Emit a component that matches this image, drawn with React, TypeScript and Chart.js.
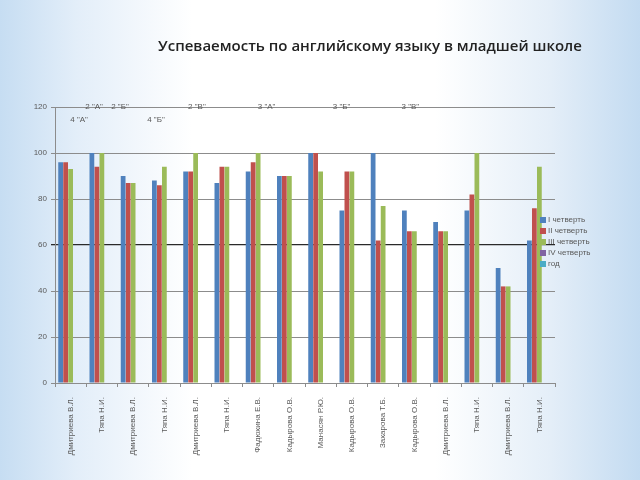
import React, { useEffect, useRef } from "react";
import { Chart, registerables } from "chart.js";

Chart.register(...registerables);

const TITLE = "Успеваемость по английскому языку в младшей школе";

const categories = [
  "Дмитриева В.Л.", "Тяпа Н.И.", "Дмитриева В.Л.", "Тяпа Н.И.",
  "Дмитриева В.Л.", "Тяпа Н.И.", "Фадюхина Е.В.", "Кадырова О.В.",
  "Манасян Р.Ю.", "Кадырова О.В.", "Захарова Т.Б.", "Кадырова О.В.",
  "Дмитриева В.Л.", "Тяпа Н.И.", "Дмитриева В.Л.", "Тяпа Н.И.",
];

const seriesNames = ["I четверть", "II четверть", "III четверть", "IV четверть", "год"];
const seriesColors = ["#4F81BD", "#C0504D", "#9BBB59", "#8064A2", "#4BACC6"];

const q1 = [96, 100, 90, 88, 92, 87, 92, 90, 100, 75, 100, 75, 70, 75, 50, 62];
const q2 = [96, 94, 87, 86, 92, 94, 96, 90, 100, 92, 62, 66, 66, 82, 42, 76];
const q3 = [93, 100, 87, 94, 100, 94, 100, 90, 92, 92, 77, 66, 66, 100, 42, 94];
const q4: (number | null)[] = categories.map(() => null);
const year: (number | null)[] = categories.map(() => null);

const yTicks = [0, 20, 40, 60, 80, 100, 120];

// class labels: text, fractional category index, row
const classLabels = ['2 "А"', '2 "Б"', '2 "В"', '3 "А"', '3 "Б"', '3 "В"', '4 "А"', '4 "Б"'];
const classLabelAt = [0.75, 1.58, 4.04, 6.27, 8.67, 10.87, 0.27, 2.73];
const classLabelRow = [0, 0, 0, 0, 0, 0, 1, 1];

const overlayPlugin = {
  id: "overlay",
  afterDraw(chart: any) {
    const ctx = chart.ctx;
    const xs = chart.scales.x;
    const ys = chart.scales.y;
    ctx.save();
    // title
    ctx.fillStyle = "#222222";
    ctx.font = "600 15px 'Open Sans'";
    ctx.textAlign = "center";
    ctx.textBaseline = "middle";
    ctx.fillText(TITLE, 370, 47);
    // class labels
    ctx.font = "8px 'Liberation Sans'";
    ctx.fillStyle = "#595959";
    const topY = ys.getPixelForValue(120);
    classLabels.forEach((t, i) => {
      const x = xs.getPixelForValue(classLabelAt[i]);
      ctx.fillText(t, x, topY + classLabelRow[i] * 13);
    });
    // legend
    ctx.textAlign = "left";
    ctx.font = "8px 'Liberation Sans'";
    seriesNames.forEach((name, i) => {
      const y = 220 + i * 11;
      ctx.fillStyle = seriesColors[i];
      ctx.fillRect(540, y - 3, 6, 6);
      ctx.fillStyle = "#595959";
      ctx.fillText(name, 548, y);
    });
    ctx.restore();
  },
};

export default function App() {
  const canvasRef = useRef<HTMLCanvasElement | null>(null);

  useEffect(() => {
    const canvas = canvasRef.current;
    if (!canvas) return;
    const data = [q1, q2, q3, q4, year];
    const chart = new Chart(canvas, {
      type: "bar",
      data: {
        labels: categories,
        datasets: seriesNames.map((name, i) => ({
          label: name,
          data: data[i],
          backgroundColor: seriesColors[i],
          borderWidth: 0,
          categoryPercentage: 0.8,
          barPercentage: 0.95,
        })),
      },
      options: {
        animation: false,
        responsive: false,
        maintainAspectRatio: false,
        layout: { padding: { left: 15, right: 85, top: 107, bottom: 0 } },
        plugins: {
          legend: { display: false },
          title: { display: false },
          tooltip: { enabled: false },
        },
        scales: {
          x: {
            afterFit: (s: any) => { s.height = 97; },
            grid: {
              offset: true,
              drawOnChartArea: false,
              drawTicks: true,
              tickLength: 4,
              color: "#8c8c8c",
            },
            border: { color: "#8c8c8c" },
            ticks: {
              autoSkip: false,
              minRotation: 90,
              maxRotation: 90,
              padding: 10,
              color: "#595959",
              font: { size: 8, family: "'Liberation Sans'" },
            },
          },
          y: {
            min: 0,
            max: 120,
            afterFit: (s: any) => { s.width = 40; },
            afterBuildTicks: (s: any) => { s.ticks = yTicks.map((v) => ({ value: v })); },
            grid: {
              color: (c: any) => (c.tick && c.tick.value === 60 ? "#2a2a2a" : "#8c8c8c"),
              lineWidth: (c: any) => (c.tick && c.tick.value === 60 ? 1.3 : 1),
              tickLength: 4,
            },
            border: { color: "#8c8c8c" },
            ticks: {
              padding: 4,
              color: "#595959",
              font: { size: 8, family: "'Liberation Sans'" },
            },
          },
        },
      },
      plugins: [overlayPlugin],
    });
    return () => chart.destroy();
  }, []);

  return (
    <div
      style={{
        position: "absolute",
        left: 0,
        top: 0,
        width: 640,
        height: 480,
        overflow: "hidden",
        background:
          "linear-gradient(to right, #c6ddf2 0%, #e3eef9 12%, #ffffff 30%, #ffffff 68%, #e4eef8 86%, #c3dbf1 100%)",
      }}
    >
      <canvas ref={canvasRef} width={640} height={480} style={{ display: "block" }} />
    </div>
  );
}
